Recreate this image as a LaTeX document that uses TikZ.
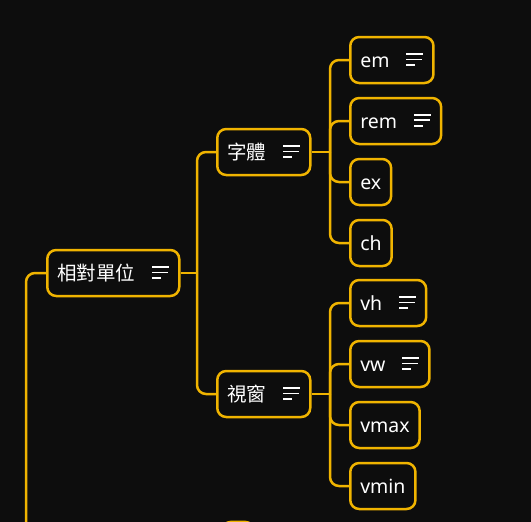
\documentclass[tikz,border=0pt]{standalone}
\usepackage{fontspec}
\setmainfont{Noto Sans}
\newfontfamily\cjk{Noto Sans CJK TC}
\definecolor{mindgold}{RGB}{240,180,0}
\definecolor{mindbg}{RGB}{13,13,13}
\tikzstyle{topic}=[draw=mindgold,line width=2.5pt,rounded corners=9pt,minimum height=46pt,
  inner xsep=10pt,text height=17pt,text depth=3pt,text=white,anchor=west,
  font=\fontsize{19.5pt}{23pt}\selectfont]
\tikzstyle{link}=[mindgold,line width=2.5pt,rounded corners=9pt]
\newcommand{\noteicon}{\hspace{17pt}\raisebox{1.3pt}{\vbox{\hrule width 17pt height 1.8pt
  \vskip 3.6pt\hrule width 16pt height 1.8pt\vskip 3.6pt\hrule width 9pt height 1.8pt}}\hspace{5pt}}

\begin{document}
\begin{tikzpicture}[x=1pt,y=-1pt]
    \fill[mindbg] (0,0) rectangle (531,522);
    \useasboundingbox (0,0) rectangle (531,522);
    % topics
    \node[topic] (unit) at (46,273) {\cjk 相對單位\noteicon};
    \node[topic] (font) at (216,152) {\cjk 字體\noteicon};
    \node[topic] (view) at (216,394) {\cjk 視窗\noteicon};
    \node[topic] (em) at (349,60) {em\noteicon};
    \node[topic] (rem) at (349,121) {rem\noteicon};
    \node[topic] (ex) at (349,182) {ex};
    \node[topic] (ch) at (349,243) {ch};
    \node[topic] (vh) at (349,303) {vh\noteicon};
    \node[topic] (vw) at (349,364) {vw\noteicon};
    \node[topic] (vmax) at (349,425) {vmax};
    \node[topic] (vmin) at (349,486) {vmin};
    % cut off topic at the bottom edge
    \draw[draw=mindgold,line width=2.5pt,rounded corners=9pt] (222,521.9) rectangle (254,570);
    % junctions
    \coordinate (down) at (26,540);
    \coordinate (unitj) at (197,273);
    \coordinate (fontj) at (330,152);
    \coordinate (viewj) at (330,394);
    % links
    \draw[link] (unit.west) -| (down);
    \draw[link] (unit.east) -- (unitj);
    \draw[link] (unitj) |- (font.west);
    \draw[link] (unitj) |- (view.west);
    \draw[link] (font.east) -- (fontj);
    \foreach \leaf in {em,rem,ex,ch}
      \draw[link] (fontj) |- (\leaf.west);
    \draw[link] (view.east) -- (viewj);
    \foreach \leaf in {vh,vw,vmax,vmin}
      \draw[link] (viewj) |- (\leaf.west);
  \end{tikzpicture}
\end{document}
